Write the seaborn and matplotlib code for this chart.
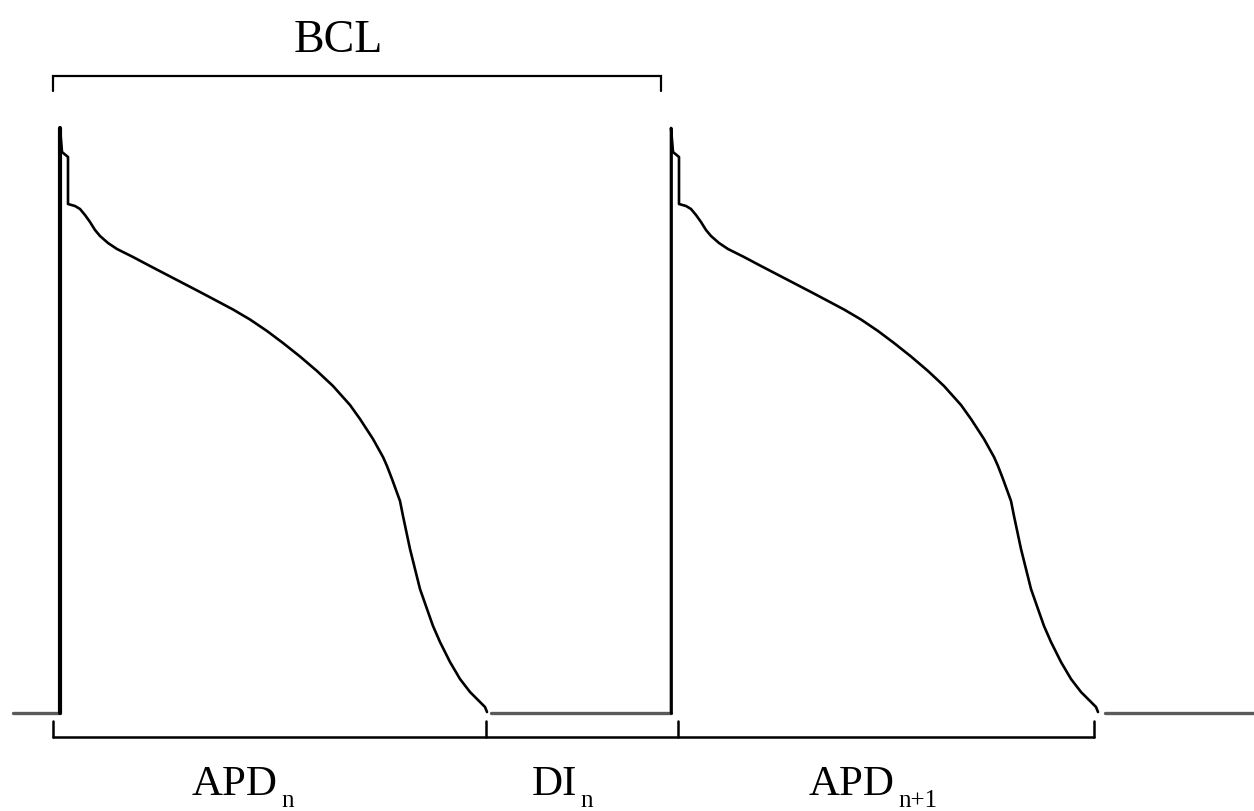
import numpy as np
import pandas as pd
import matplotlib
matplotlib.use("Agg")
import matplotlib.pyplot as plt
import seaborn as sns

# ---- data (time in ms relative to upstroke, membrane potential in mV) ----
ap_time = [0, 0, 2, 8, 8, 15, 20, 25, 30, 35, 40, 48, 57, 73, 90, 115, 140, 157,
           173, 190, 207, 223, 240, 257, 273, 290, 300, 313, 323, 327, 332, 340,
           343, 350, 355, 360, 367, 373, 380, 390, 400, 410, 417, 425, 427]
ap_volt = [-85, 32, 27.2, 26.2, 16.8, 16.4, 15.8, 14.6, 13.2, 11.6, 10.4, 9.0,
           7.8, 6.2, 4.4, 1.8, -0.8, -2.6, -4.3, -6.3, -8.6, -11.0, -13.7, -16.6,
           -19.6, -23.4, -26.2, -30.2, -33.8, -35.6, -38.2, -42.6, -45.6, -52.2,
           -56.2, -60.2, -64.2, -67.6, -70.8, -74.8, -78.2, -80.8, -82.2, -83.8, -84.8]
beat_onsets = [0, 611]
rest_start = [-47, 431, 1045]
rest_end = [0, 611, 1194]
rest_volt = -85

bcl_span = [-7, 601]
lower_ticks = [-7, 426, 618, 1034]
label_main = ["APD", "DI", "APD"]
label_sub = ["n", "n", "n+1"]
label_main_t = [132, 472, 749]

sns.set_theme(style="white")
plt.rcParams["font.family"] = ["Liberation Serif", "DejaVu Serif"]
plt.rcParams["text.color"] = "black"

fig = plt.figure(figsize=(12.54, 8.12), dpi=100)
ax = fig.add_axes([0, 0, 1, 1])

# resting baseline segments
for s, e in zip(rest_start, rest_end):
    df = pd.DataFrame({"t": [s, e], "v": [rest_volt, rest_volt]})
    sns.lineplot(data=df, x="t", y="v", ax=ax, color="#5a5a5a", lw=2.4,
                 estimator=None, sort=False)

# action potentials
for i, on in enumerate(beat_onsets):
    df = pd.DataFrame({"t": np.array(ap_time) + on, "v": ap_volt})
    sns.lineplot(data=df, x="t", y="v", ax=ax, color="black", lw=1.9,
                 estimator=None, sort=False)
    up = pd.DataFrame({"t": [ap_time[0] + on, ap_time[1] + on], "v": ap_volt[:2]})
    sns.lineplot(data=up, x="t", y="v", ax=ax, color="black",
                 lw=3.0 if i == 0 else 1.9, estimator=None, sort=False)

# BCL bracket (top)
y_top, y_top_tick = 42.4, 39.4
ax.plot([bcl_span[0], bcl_span[0], bcl_span[1], bcl_span[1]],
        [y_top_tick, y_top, y_top, y_top_tick], color="black", lw=1.6,
        solid_joinstyle="miter")
ax.text(278, 49.6, "BCL", ha="center", va="center", fontsize=33, color="black")

# lower brackets
y_low, y_low_tick = -89.8, -86.6
ax.plot([lower_ticks[0], lower_ticks[-1]], [y_low, y_low], color="black", lw=1.8)
for t in lower_ticks:
    ax.plot([t, t], [y_low, y_low_tick], color="black", lw=1.8)
for m, s, tm in zip(label_main, label_sub, label_main_t):
    txt = ax.text(tm, -101.2, m, ha="left", va="baseline", fontsize=31, color="black")
    ax.annotate(s, xy=(1, 0), xycoords=txt, xytext=(3, -3), textcoords="offset pixels",
                ha="left", va="baseline", fontsize=18, color="black")

ax.set_xlim(-60, 1194)
ax.set_ylim(-104.6, 57.8)
ax.set_axis_off()

fig.savefig("out.png", dpi=100, facecolor="white")
